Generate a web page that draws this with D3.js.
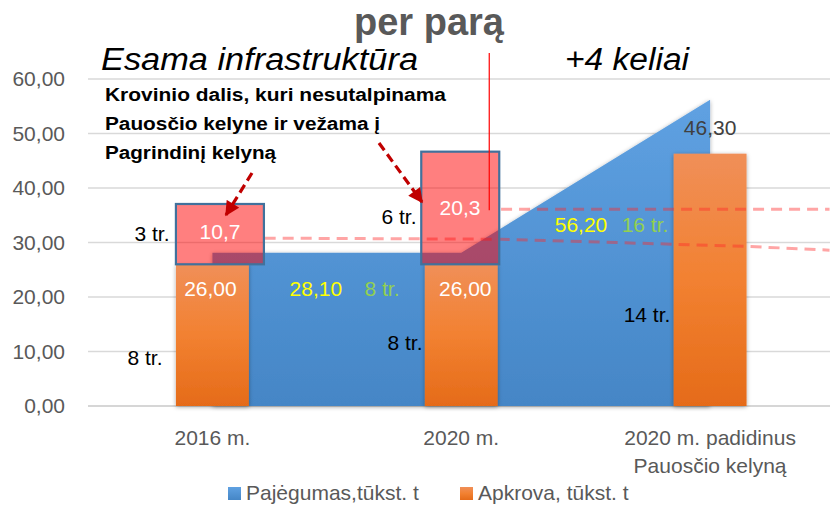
<!DOCTYPE html>
<html><head><meta charset="utf-8">
<script src="https://cdn.jsdelivr.net/npm/d3@7"></script>
<style>
html,body{margin:0;padding:0;background:#fff;}
svg{display:block;font-family:"Liberation Sans",Arial,sans-serif;}
</style></head>
<body>
<svg id="c" width="830" height="506"></svg>
<script>
// ---- data ----
const categories = ["2016 m.", "2020 m.", "2020 m. padidinus\nPauosčio kelyną"];
const capacity = [28.10, 28.10, 56.20];          // Pajėgumas, tūkst. t (area)
const load = [26.00, 26.00, 46.30];              // Apkrova, tūkst. t (bars)
const overflow = [10.7, 20.3, null];             // Krovinio dalis nesutalpinama
const loadLabels = ["26,00", "26,00", "46,30"];
const capLabels = ["28,10", "56,20"];
const capTrains = ["8 tr.", "16 tr."];
const loadTrains = ["8 tr.", "8 tr.", "14 tr."];
const overflowTrains = ["3 tr.", "6 tr."];
const overflowLabels = ["10,7", "20,3"];
const yTicks = [0, 10, 20, 30, 40, 50, 60];
const tickLabels = ["0,00", "10,00", "20,00", "30,00", "40,00", "50,00", "60,00"];
const seriesNames = ["Pajėgumas,tūkst. t", "Apkrova, tūkst. t"];
// dashed guide lines (category position, value)
const guideLow = [[0.21, 30.8], [1.16, 30.6], [2.14, 29.3], [2.48, 28.6]];
const guideHigh = [[1.16, 36.1], [2.48, 36.1]];

const svg = d3.select("#c");
const W = 830, H = 506;
const x = d3.scaleBand().domain(d3.range(categories.length)).range([88, 834.5]);
const y = d3.scaleLinear().domain([0, 60]).range([406, 79]);
const cx = i => x(i) + x.bandwidth() / 2;
const cpos = t => x(0) + x.bandwidth() / 2 + t * x.bandwidth();
const barW = x.bandwidth() * 0.293;

const defs = svg.append("defs");
const gB = defs.append("linearGradient").attr("id", "gB").attr("x1", 0).attr("y1", 0).attr("x2", 0).attr("y2", 1);
gB.append("stop").attr("offset", "0").attr("stop-color", "#5fa1e2");
gB.append("stop").attr("offset", "1").attr("stop-color", "#4586c6");
const gO = defs.append("linearGradient").attr("id", "gO").attr("x1", 0).attr("y1", 0).attr("x2", 0).attr("y2", 1);
gO.append("stop").attr("offset", "0").attr("stop-color", "#f08f58");
gO.append("stop").attr("offset", "0.5").attr("stop-color", "#f28131");
gO.append("stop").attr("offset", "1").attr("stop-color", "#e56b19");
const sh = defs.append("filter").attr("id", "sh").attr("x", -0.2).attr("y", -0.2).attr("width", 1.4).attr("height", 1.4);
sh.append("feDropShadow").attr("dx", 0).attr("dy", 1).attr("stdDeviation", 2.2).attr("flood-color", "#000").attr("flood-opacity", 0.35);
const mk = defs.append("marker").attr("id", "ah").attr("viewBox", "0 0 10 10").attr("refX", 9).attr("refY", 5)
  .attr("markerWidth", 5).attr("markerHeight", 4.6).attr("orient", "auto").attr("markerUnits", "strokeWidth");
mk.append("path").attr("d", "M0,0 L10,5 L0,10 Z").attr("fill", "#c00000");

// gridlines
svg.append("g").selectAll("line").data(yTicks).join("line")
  .attr("x1", 88).attr("x2", W).attr("y1", d => y(d)).attr("y2", d => y(d))
  .attr("stroke", d => d === 0 ? "#c8c8c8" : "#d9d9d9").attr("stroke-width", 1.4);

// y tick labels
svg.append("g").selectAll("text").data(yTicks).join("text")
  .attr("x", 65).attr("y", d => y(d)).attr("dy", "0.35em").attr("text-anchor", "end")
  .attr("fill", "#595959").attr("font-size", 21).text((d, i) => tickLabels[i]);

// capacity area
const area = d3.area().x((d, i) => cx(i)).y0(y(0)).y1(d => y(d));
svg.append("path").datum(capacity).attr("d", area).attr("fill", "url(#gB)").attr("filter", "url(#sh)");

// load bars
svg.append("g").selectAll("rect").data(load).join("rect")
  .attr("x", (d, i) => cx(i) - barW / 2).attr("width", barW)
  .attr("y", d => y(d)).attr("height", d => y(0) - y(d))
  .attr("fill", "url(#gO)").attr("filter", "url(#sh)");

// dashed guide lines
const gl = d3.line().x(d => cpos(d[0])).y(d => y(d[1]));
[guideLow, guideHigh].forEach(g => {
  svg.append("path").datum(g).attr("d", gl).attr("fill", "none")
    .attr("stroke", "rgba(255,40,40,0.42)").attr("stroke-width", 3).attr("stroke-dasharray", "11,7");
});

// overflow boxes
const boxL = [-36.5, -40], boxR = [51.5, 38];
svg.append("g").selectAll("rect").data(overflow.filter(d => d != null)).join("rect")
  .attr("x", (d, i) => cx(i) + boxL[i]).attr("width", (d, i) => boxR[i] - boxL[i])
  .attr("y", (d, i) => y(load[i] + d) - 2).attr("height", (d, i) => y(load[i]) - y(load[i] + d) + 2)
  .attr("fill", "rgba(255,0,0,0.5)").attr("stroke", "#41719c").attr("stroke-width", 2.2);

// red vertical line
svg.append("line").attr("x1", cx(1) + 28).attr("x2", cx(1) + 28).attr("y1", 53).attr("y2", y(35.9))
  .attr("stroke", "#ff0000").attr("stroke-width", 1.2);

// arrows
const arrows = [[[252, 173], [226, 215]], [[379, 143], [422, 202]]];
svg.append("g").selectAll("line").data(arrows).join("line")
  .attr("x1", d => d[0][0]).attr("y1", d => d[0][1]).attr("x2", d => d[1][0]).attr("y2", d => d[1][1])
  .attr("stroke", "#c00000").attr("stroke-width", 3.2).attr("stroke-dasharray", "9,5")
  .attr("marker-end", "url(#ah)");

// value labels
const t = (txt, px, py, opts = {}) => svg.append("text").attr("x", px).attr("y", py)
  .attr("text-anchor", opts.anchor || "middle").attr("font-size", opts.size || 21)
  .attr("fill", opts.fill || "#000").attr("font-weight", opts.weight || "normal")
  .attr("font-style", opts.style || "normal").text(txt);

t(loadLabels[0], cx(0) - 2, y(20.2), {fill: "#fff"});
t(loadLabels[1], cx(1) + 4, y(20.2), {fill: "#fff"});
t(loadLabels[2], cx(2), y(49.8), {fill: "#404040"});
t(capLabels[0], (cx(0) + cx(1)) / 2 - 21, y(20.2), {fill: "#ffff00"});
t(capTrains[0], 382, y(20.2), {fill: "#92d050"});
t(capLabels[1], 581, y(32.0), {fill: "#ffff00"});
t(capTrains[1], 645, y(32.0), {fill: "#92d050"});
t(loadTrains[0], 145, y(7.6));
t(loadTrains[1], 405, y(10.3));
t(loadTrains[2], 647, y(15.5));
t(overflowTrains[0], 152, y(30.2));
t(overflowTrains[1], 399, y(33.4));
t(overflowLabels[0], 220, y(30.6), {fill: "#fff"});
t(overflowLabels[1], 460, y(35.1), {fill: "#fff"});

// category labels
categories.forEach((c, i) => {
  c.split("\n").forEach((line, j) => t(line, cx(i), 445 + j * 28, {fill: "#595959"}));
});

// titles
t("per parą", 429, 35, {size: 38, weight: "bold", fill: "#595959"});
t("Esama infrastruktūra", 101, 70, {size: 31, style: "italic", anchor: "start"}).attr("textLength", 317).attr("lengthAdjust", "spacingAndGlyphs");
t("+4 keliai", 565, 70, {size: 31, style: "italic", anchor: "start"}).attr("textLength", 124).attr("lengthAdjust", "spacingAndGlyphs");
const note = [["Krovinio dalis, kuri nesutalpinama", 341], ["Pauosčio kelyne ir vežama į", 275], ["Pagrindinį kelyną", 171]];
note.forEach((n, j) => t(n[0], 105, 101 + j * 29, {size: 18, weight: "bold", anchor: "start"})
  .attr("textLength", n[1]).attr("lengthAdjust", "spacingAndGlyphs"));

// legend
const lg = svg.append("g");
[["url(#gB)", 228, seriesNames[0]], ["url(#gO)", 460, seriesNames[1]]].forEach(d => {
  lg.append("rect").attr("x", d[1]).attr("y", 487).attr("width", 13).attr("height", 13).attr("fill", d[0]);
  t(d[2], d[1] + 18, 500, {anchor: "start", fill: "#595959", size: 21});
});
</script>
</body></html>
